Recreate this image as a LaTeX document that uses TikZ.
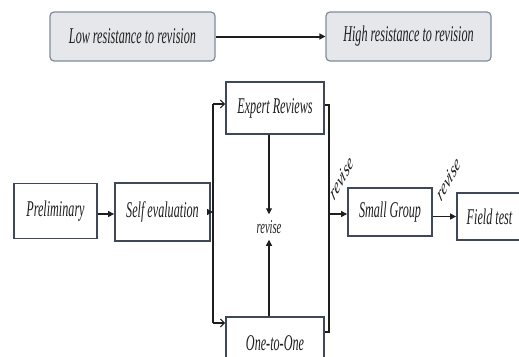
\documentclass[tikz,border=0pt]{standalone}
\usepackage{fontspec}
\setmainfont{Liberation Serif}[FakeStretch=0.54]
\newfontfamily\plainserif{Liberation Serif}
\usetikzlibrary{arrows.meta,calc}
\definecolor{boxline}{HTML}{3E4858}
\definecolor{topline}{HTML}{7D8C9C}
\definecolor{topfill}{HTML}{E6E7EB}
\definecolor{ink}{HTML}{1E1E1E}
\tikzset{
  stagebox/.style={draw=boxline, line width=1.8pt, fill=white, text=ink, inner sep=0pt,
    font=\itshape\fontsize{22.5}{26}\selectfont},
  topbox/.style={draw=topline, line width=1.2pt, fill=topfill, rounded corners=4pt, text=ink,
    minimum width=165pt, minimum height=49pt, inner sep=0pt,
    font=\itshape\fontsize{22.5}{26}\selectfont},
  conn/.style={draw=ink, line width=1.1pt},
  arr/.style={conn, -{Triangle[length=6pt,width=6pt]}},
  barb/.style={conn, -{Straight Barb[length=4pt,width=8pt,line width=1pt]}},
  revlabel/.style={text=ink, inner sep=0pt, font=\plainserif\itshape\fontsize{22}{26}\selectfont}
}
\begin{document}
\begin{tikzpicture}[x=1pt,y=-1pt]
\useasboundingbox (0,0) rectangle (519,356);
\clip (0,0) rectangle (519,356);
% top row
\node[topbox] (low) at (132.5,36.5) {Low resistance to revision};
\node[topbox] (high) at (408.5,36.5) {High resistance to revision};
\draw[arr, line width=2pt] (low.east) -- (high.west);
% stages
\node[stagebox, minimum width=83pt, minimum height=55pt] (prelim) at (55.5,211) {Preliminary};
\node[stagebox, minimum width=95pt, minimum height=58pt] (self) at (162.5,212) {Self evaluation};
\node[stagebox, minimum width=98pt, minimum height=52pt] (expert) at (275,108) {Expert Reviews};
\node[stagebox, minimum width=98pt, minimum height=52pt] (one) at (275,343) {One-to-One};
\node[stagebox, minimum width=84pt, minimum height=48pt] (small) at (390,212) {Small Group};
\node[stagebox, minimum width=65pt, minimum height=47pt] (field) at (489.5,216.5) {Field test};
\node[text=ink, inner sep=0pt, font=\itshape\fontsize{19.5}{22}\selectfont] (mid) at (269,227) {revise};
% coordinates of the branching lines
\coordinate (vtop) at (213,104);
\coordinate (vmid) at (213,212);
\coordinate (vbot) at (213,323);
\coordinate (rtop) at (329,105);
\coordinate (rmid) at (329,214);
\coordinate (rbot) at (329,332);
% connectors
\draw[arr] ([yshift=-3pt]prelim.east) -- ([yshift=-3pt]prelim.east -| self.west);
\draw[arr] (self.east) -- (vmid);
\draw[conn] (vtop) -- (vbot);
\draw[barb] (vtop) -- (vtop -| expert.west);
\draw[barb] (vbot) -- (vbot -| one.west);
\draw[arr] ([xshift=-6pt]expert.south) -- ([xshift=-6pt,yshift=6pt]expert.south |- mid.north);
\draw[arr] ([xshift=-6pt]one.north) -- ([xshift=-6pt,yshift=-6pt]one.north |- mid.south);
\draw[conn] (rtop -| expert.east) -- (rtop) -- (rbot) -- (rbot -| one.east);
\draw[arr] (rmid) -- (rmid -| small.west);
\draw[arr] (small.east |- field.west) -- (field.west);
% rotated labels (squeezed like the rest)
\begin{scope}[shift={(341.5,178)}, xscale=0.55]
  \node[revlabel, rotate=45, transform shape] (rev1) at (0,0) {revise};
\end{scope}
\begin{scope}[shift={(448.5,179)}, xscale=0.55]
  \node[revlabel, rotate=45, transform shape] (rev2) at (0,0) {revise};
\end{scope}
\end{tikzpicture}
\end{document}
